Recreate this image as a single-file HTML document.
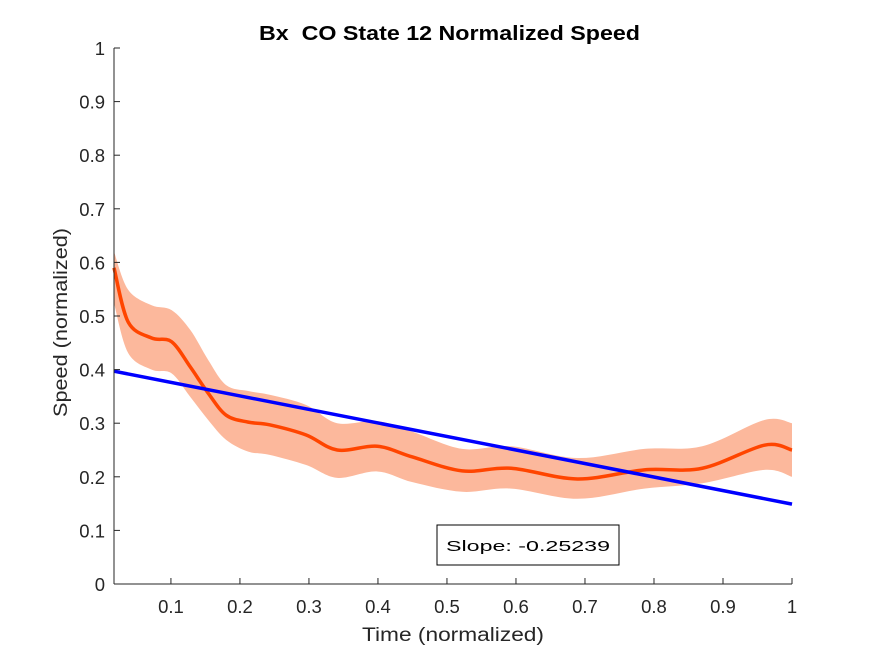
<!DOCTYPE html>
<html><head><meta charset="utf-8"><style>
body{margin:0;background:#fff;}
svg text{font-family:"Liberation Sans",Arial,sans-serif;fill:#262626;}
</style></head><body>
<svg id="chart" width="875" height="656" xmlns="http://www.w3.org/2000/svg">
<rect width="875" height="656" fill="#fff"/>
<text x="259" y="40" font-size="20" font-weight="bold" textLength="381" lengthAdjust="spacingAndGlyphs" style="fill:#000;white-space:pre">Bx  CO State 12 Normalized Speed</text>
<g id="band"></g>
<g id="marks"></g>
<g id="axes"></g>
<text x="362" y="641" font-size="19" textLength="182" lengthAdjust="spacingAndGlyphs">Time (normalized)</text>
<text transform="translate(67,417) rotate(-90)" font-size="19" textLength="189" lengthAdjust="spacingAndGlyphs">Speed (normalized)</text>
<g>
<rect x="437" y="525" width="182" height="40" fill="#fff" stroke="#000" stroke-width="1"/>
<text x="446" y="551" font-size="15" textLength="164" lengthAdjust="spacingAndGlyphs" style="fill:#000">Slope: -0.25239</text>
</g>
</svg>
<script>
const timeVals=[0.0175,0.038,0.072,0.101,0.128,0.154,0.18,0.212,0.243,0.296,0.341,0.399,0.45,0.522,0.593,0.689,0.786,0.87,0.96,1.0];
const meanVals=[0.59,0.489,0.459,0.452,0.405,0.356,0.315,0.302,0.297,0.278,0.25,0.257,0.237,0.211,0.216,0.196,0.213,0.216,0.259,0.25];
const upperVals=[0.62,0.549,0.52,0.511,0.474,0.418,0.371,0.36,0.353,0.334,0.30,0.304,0.284,0.252,0.257,0.235,0.252,0.257,0.306,0.30];
const lowerVals=[0.524,0.431,0.40,0.393,0.349,0.306,0.269,0.247,0.241,0.222,0.198,0.21,0.19,0.172,0.178,0.159,0.178,0.188,0.213,0.20];
const fitStart=[0.0175,0.397];
const fitSlope=-0.25239;
const xTicks=[0.1,0.2,0.3,0.4,0.5,0.6,0.7,0.8,0.9,1];
const yTicks=[0,0.1,0.2,0.3,0.4,0.5,0.6,0.7,0.8,0.9,1];
const X0=114,X1=792,Y0=584,Y1=48,xmin=0.0175,xmax=1;
const sx=v=>X0+(v-xmin)/(xmax-xmin)*(X1-X0);
const sy=v=>Y0-v*(Y0-Y1);
const NS='http://www.w3.org/2000/svg';
function smooth(pts){let d='';for(let i=0;i<pts.length-1;i++){const p0=pts[Math.max(0,i-1)],p1=pts[i],p2=pts[i+1],p3=pts[Math.min(pts.length-1,i+2)];
const c1=[p1[0]+(p2[0]-p0[0])/6,p1[1]+(p2[1]-p0[1])/6],c2=[p2[0]-(p3[0]-p1[0])/6,p2[1]-(p3[1]-p1[1])/6];
d+=(i?'':'M'+p1[0]+','+p1[1])+' C'+c1+' '+c2+' '+p2;}return d;}
const up=timeVals.map((t,i)=>[sx(t),sy(upperVals[i])]);
const lo=timeVals.map((t,i)=>[sx(t),sy(lowerVals[i])]).reverse();
const band=document.createElementNS(NS,'path');


band.setAttribute('d',smooth(up)+' L'+lo[0]+smooth(lo).replace(/^M[^ ]+/,'')+' Z');
band.setAttribute('fill','#fcb89c');
document.getElementById('band').appendChild(band);
const mean=document.createElementNS(NS,'path');


mean.setAttribute('d',smooth(timeVals.map((t,i)=>[sx(t),sy(meanVals[i])])));
mean.setAttribute('fill','none');mean.setAttribute('stroke','#ff4500');mean.setAttribute('stroke-width','3.5');
document.getElementById('marks').appendChild(mean);
const fit=document.createElementNS(NS,'line');


fit.setAttribute('x1',sx(fitStart[0]));fit.setAttribute('y1',sy(fitStart[1]));
fit.setAttribute('x2',sx(1));fit.setAttribute('y2',sy(fitStart[1]+fitSlope*(1-fitStart[0])));
fit.setAttribute('stroke','#0000ff');fit.setAttribute('stroke-width','3.5');
document.getElementById('marks').appendChild(fit);
const ax=document.getElementById('axes');
ax.innerHTML=`<line x1="${X0}" y1="${Y0}" x2="${X1}" y2="${Y0}" stroke="#262626"/><line x1="${X0}" y1="${Y0}" x2="${X0}" y2="${Y1}" stroke="#262626"/>`;
xTicks.forEach(v=>{const g=document.createElementNS(NS,'g');


const x=sx(v);g.innerHTML=`<line x1="${x}" y1="${Y0}" x2="${x}" y2="${Y0-6}" stroke="#262626"/><text x="${x}" y="${Y0+29}" text-anchor="middle" font-size="18.5">${v}</text>`;ax.appendChild(g);});
yTicks.forEach(v=>{const g=document.createElementNS(NS,'g');


const y=sy(v);g.innerHTML=`<line x1="${X0}" y1="${y}" x2="${X0+6}" y2="${y}" stroke="#262626"/><text x="${X0-9}" y="${y+7}" text-anchor="end" font-size="18.5">${v}</text>`;ax.appendChild(g);});
</script>
</body></html>
